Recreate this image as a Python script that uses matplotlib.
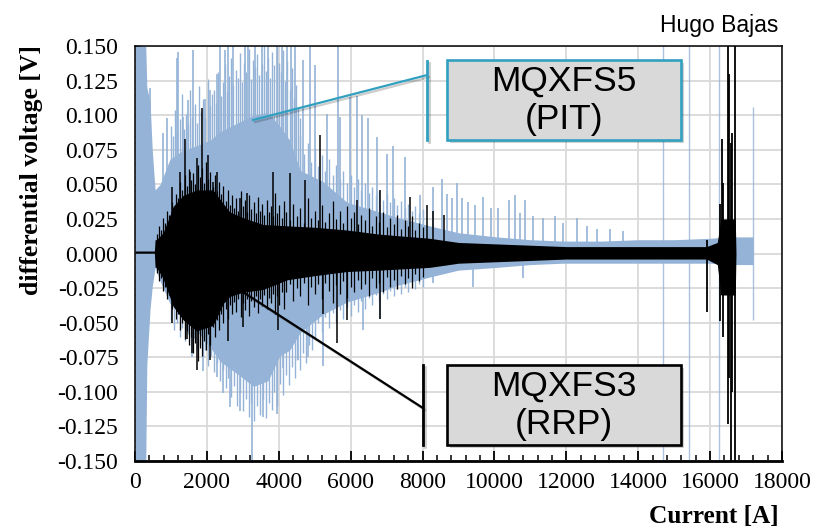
import numpy as np
import matplotlib.pyplot as plt
import matplotlib.patheffects as pe
from matplotlib.patches import Rectangle
from matplotlib.ticker import MultipleLocator, FormatStrFormatter

# ---- data (current in A, voltage in V) ----
# MQXFS5 (PIT), dense core of the noise band
pit_i = [0, 300, 330, 420, 480, 560, 700, 970, 1300, 1720, 2100, 2370, 2900, 3300,
         3700, 4030, 4300, 4600, 5230, 5900, 6800, 7300, 8200, 9000, 10070, 11000,
         11900, 13000, 14000, 15000, 16000, 16500, 17200]
pit_hi = [0.150, 0.150, 0.120, 0.110, 0.075, 0.046, 0.050, 0.068, 0.074, 0.078, 0.082,
          0.088, 0.095, 0.100, 0.102, 0.092, 0.082, 0.060, 0.052, 0.037, 0.030, 0.026,
          0.020, 0.015, 0.012, 0.010, 0.009, 0.009, 0.010, 0.010, 0.011, 0.012, 0.012]
pit_lo = [-0.150, -0.150, -0.080, -0.040, -0.024, -0.010, -0.020, -0.036, -0.045, -0.056,
          -0.068, -0.078, -0.088, -0.096, -0.092, -0.074, -0.070, -0.057, -0.044, -0.035,
          -0.028, -0.023, -0.017, -0.012, -0.010, -0.008, -0.007, -0.007, -0.007, -0.007,
          -0.007, -0.008, -0.008]

# MQXFS5 fringe of the band (regular current sampling)
pit_top_a = [0.092, 0.085, 0.104, 0.088, 0.097, 0.115, 0.090, 0.101, 0.094, 0.118,
             0.099, 0.108, 0.094, 0.121, 0.103, 0.112, 0.098, 0.126, 0.107, 0.115,
             0.118, 0.109, 0.131, 0.114, 0.124, 0.137, 0.117, 0.128, 0.141, 0.122,
             0.133, 0.127, 0.145, 0.124, 0.138, 0.131, 0.148, 0.126, 0.140, 0.135,
             0.144, 0.129, 0.137, 0.150, 0.132, 0.141, 0.127, 0.146, 0.136, 0.150,
             0.138, 0.131, 0.147, 0.125, 0.139, 0.118, 0.134, 0.112, 0.122, 0.105,
             0.098]                                   # 1000..4600 A, every 60 A
pit_top_b = [0.085, 0.072, 0.080, 0.066, 0.076, 0.063, 0.071, 0.060, 0.068, 0.057,
             0.064, 0.054, 0.060, 0.051, 0.057, 0.048, 0.054, 0.046, 0.051, 0.044,
             0.048, 0.042, 0.045, 0.039, 0.043, 0.037, 0.040, 0.035, 0.038, 0.033,
             0.036, 0.031, 0.034, 0.029, 0.032]       # 4600..8000 A, every 100 A
pit_bot_a = [-0.048, -0.055, -0.050, -0.060, -0.054, -0.063, -0.058, -0.067, -0.061, -0.070,
             -0.066, -0.075, -0.070, -0.081, -0.074, -0.086, -0.079, -0.092, -0.084, -0.097,
             -0.090, -0.104, -0.096, -0.110, -0.101, -0.114, -0.105, -0.118, -0.108, -0.121,
             -0.110, -0.117, -0.105, -0.119, -0.108, -0.113, -0.100, -0.110, -0.094, -0.102,
             -0.088, -0.095, -0.082, -0.090, -0.077, -0.084, -0.072, -0.079, -0.066, -0.070]
                                                      # 1000..4920 A, every 80 A
pit_bot_b = [-0.062, -0.050, -0.057, -0.046, -0.054, -0.043, -0.050, -0.041, -0.047, -0.039,
             -0.045, -0.037, -0.042, -0.034, -0.040, -0.032, -0.037, -0.030, -0.035, -0.029,
             -0.033, -0.027, -0.031, -0.026, -0.029, -0.024, -0.028, -0.023, -0.026, -0.022,
             -0.024]                                  # 5000..8000 A, every 100 A

# MQXFS5 single spikes
pit_up_i = [150, 420, 780, 890, 1170, 1200, 1340, 1470, 1615, 1950, 2090, 2280, 2365, 2500,
            2590, 2730, 3060, 3145, 3340, 3535, 3700, 3950, 4090, 4230, 4350, 4450, 4680,
            4870, 5010, 5340, 5650, 5700, 5980, 6180, 6320, 6490, 6730, 7010, 7180, 7510,
            7930, 8290, 8540, 8680, 8820, 8960, 9100, 9270, 9460, 9680, 9900, 10100, 10410,
            10570, 10710, 10850, 11070, 11350, 11690, 11910, 12300, 12580, 12850, 13220, 13580]
pit_up_v = [0.150, 0.120, 0.087, 0.098, 0.141, 0.146, 0.099, 0.111, 0.147, 0.112, 0.118,
            0.130, 0.150, 0.147, 0.150, 0.150, 0.150, 0.150, 0.150, 0.150, 0.150, 0.150,
            0.150, 0.150, 0.150, 0.150, 0.140, 0.150, 0.136, 0.101, 0.150, 0.099, 0.113,
            0.114, 0.100, 0.098, 0.084, 0.072, 0.078, 0.070, 0.042, 0.048, 0.054, 0.043,
            0.040, 0.051, 0.040, 0.037, 0.035, 0.041, 0.033, 0.033, 0.039, 0.042, 0.029,
            0.039, 0.027, 0.026, 0.027, 0.022, 0.026, 0.020, 0.018, 0.018, 0.016]
pit_dn_i = [1600, 1900, 2280, 2450, 2640, 2920, 3260, 3570, 3950, 4120, 4540, 4810, 5230,
            6340, 6820, 8300, 9400, 10800]
pit_dn_v = [-0.075, -0.085, -0.089, -0.101, -0.111, -0.114, -0.150, -0.118, -0.116, -0.083,
            -0.077, -0.075, -0.081, -0.055, -0.047, -0.021, -0.024, -0.018]
pit_line_i = [14690, 15420, 16250, 17200]
pit_line_lo = [-0.150, -0.150, -0.150, -0.048]
pit_line_hi = [0.150, 0.150, 0.150, 0.106]

# MQXFS3 (RRP), dense core
rrp_i = [0, 540, 560, 600, 780, 890, 1060, 1340, 1720, 2170, 2460, 2640, 3000, 3560, 4230,
         5000, 5900, 6800, 8200, 9000, 10000, 11000, 12000, 14000, 15900, 16200, 16300,
         16700, 16720]
rrp_hi = [0.0018, 0.0018, 0.010, 0.010, 0.015, 0.022, 0.034, 0.042, 0.046, 0.046, 0.036,
          0.030, 0.026, 0.021, 0.020, 0.019, 0.017, 0.014, 0.011, 0.008, 0.007, 0.006,
          0.005, 0.005, 0.005, 0.008, 0.025, 0.025, 0.0]
rrp_lo = [0.0002, 0.0002, -0.010, -0.010, -0.018, -0.026, -0.038, -0.048, -0.056, -0.052,
          -0.036, -0.031, -0.028, -0.026, -0.019, -0.016, -0.013, -0.012, -0.010, -0.007,
          -0.006, -0.005, -0.004, -0.004, -0.004, -0.008, -0.030, -0.030, 0.0]

# MQXFS3 fringe
rrp_top_a = [0.014, 0.020, 0.017, 0.026, 0.022, 0.031, 0.028, 0.037, 0.033, 0.043,
             0.040, 0.052, 0.046, 0.057, 0.049, 0.061, 0.053, 0.058, 0.050, 0.064,
             0.055, 0.062, 0.051, 0.066, 0.054, 0.059, 0.048, 0.057, 0.045, 0.052,
             0.043, 0.049, 0.038, 0.046, 0.035, 0.042, 0.033, 0.040, 0.031, 0.045,
             0.034, 0.039, 0.030, 0.042, 0.032, 0.037, 0.029, 0.041, 0.031, 0.036,
             0.028, 0.039, 0.030, 0.034, 0.027, 0.044, 0.029, 0.035, 0.026, 0.038]
                                                      # 600..4140 A, every 60 A
rrp_bot_a = [-0.014, -0.020, -0.018, -0.027, -0.024, -0.033, -0.030, -0.040, -0.036, -0.047,
             -0.044, -0.055, -0.050, -0.062, -0.056, -0.066, -0.060, -0.072, -0.065, -0.078,
             -0.068, -0.074, -0.063, -0.070, -0.058, -0.066, -0.053, -0.060, -0.048, -0.055,
             -0.044, -0.050, -0.040, -0.047, -0.037, -0.044, -0.035, -0.042, -0.033, -0.046,
             -0.036, -0.041, -0.033, -0.045, -0.034, -0.039, -0.031, -0.043, -0.033, -0.038,
             -0.030, -0.040, -0.032, -0.036, -0.029, -0.044, -0.031, -0.037, -0.028, -0.040]
rrp_top_b = [0.030, 0.024, 0.036, 0.027, 0.033, 0.022, 0.040, 0.026, 0.031, 0.024,
             0.035, 0.023, 0.029, 0.038, 0.025, 0.031, 0.022, 0.034, 0.026, 0.030,
             0.021, 0.028, 0.024, 0.033, 0.020, 0.027, 0.023, 0.030, 0.019, 0.026,
             0.021, 0.028, 0.018, 0.024, 0.020, 0.027, 0.017, 0.022, 0.019]
                                                      # 4200..8000 A, every 100 A
rrp_bot_b = [-0.028, -0.022, -0.034, -0.025, -0.031, -0.021, -0.037, -0.024, -0.029, -0.022,
             -0.033, -0.021, -0.027, -0.036, -0.023, -0.029, -0.020, -0.032, -0.024, -0.028,
             -0.019, -0.026, -0.022, -0.031, -0.018, -0.025, -0.021, -0.028, -0.017, -0.024,
             -0.019, -0.026, -0.016, -0.022, -0.018, -0.025, -0.015, -0.020, -0.017]

rrp_up_i = [1030, 1250, 1390, 1530, 1720, 1865, 2030, 2180, 2280, 2920, 3110, 3840, 4310,
            4730, 5150, 6180, 6820, 7650, 8120, 8300, 8600]
rrp_up_v = [0.048, 0.059, 0.083, 0.059, 0.069, 0.105, 0.071, 0.052, 0.059, 0.040, 0.044,
            0.059, 0.058, 0.053, 0.086, 0.039, 0.046, 0.041, 0.035, 0.031, 0.028]
rrp_dn_i = [1030, 1440, 1590, 1720, 2090, 2590, 3000, 3980, 5240, 5610, 5890, 6820]
rrp_dn_v = [-0.050, -0.062, -0.072, -0.084, -0.077, -0.063, -0.053, -0.055, -0.044, -0.065,
            -0.048, -0.047]
rrp_q_i = [15920, 16280, 16330, 16370, 16500, 16530, 16580, 16610, 16690]
rrp_q_lo = [-0.042, -0.049, -0.030, -0.060, -0.123, -0.090, -0.150, -0.100, -0.150]
rrp_q_hi = [0.010, 0.036, 0.083, 0.051, 0.150, 0.130, 0.080, 0.087, 0.150]

blue = '#95B3D7'
teal = '#31A0C0'
serif = 'Liberation Serif'
sans = 'Liberation Sans'

fig = plt.figure(figsize=(8.21, 5.29), dpi=100)
ax = fig.add_axes([0.1644, 0.1285, 0.9525 - 0.1644, 0.913 - 0.1285])

# PIT series
ax.fill_between(pit_i, pit_lo, pit_hi, color=blue, lw=0, zorder=2)
ax.vlines(1000 + 60 * np.arange(len(pit_top_a)), 0, pit_top_a, color=blue, lw=1.0, zorder=2)
ax.vlines(4600 + 100 * np.arange(len(pit_top_b)), 0, pit_top_b, color=blue, lw=1.0, zorder=2)
ax.vlines(1000 + 80 * np.arange(len(pit_bot_a)), pit_bot_a, 0, color=blue, lw=1.0, zorder=2)
ax.vlines(5000 + 100 * np.arange(len(pit_bot_b)), pit_bot_b, 0, color=blue, lw=1.0, zorder=2)
ax.vlines(pit_up_i, 0, pit_up_v, color=blue, lw=1.2, zorder=2)
ax.vlines(pit_dn_i, pit_dn_v, 0, color=blue, lw=1.2, zorder=2)
ax.vlines(pit_line_i, pit_line_lo, pit_line_hi, color=blue, lw=1.0, alpha=0.8, zorder=2)

# RRP series
ax.fill_between(rrp_i, rrp_lo, rrp_hi, color='black', lw=0, zorder=3)
ax.vlines(600 + 60 * np.arange(len(rrp_top_a)), 0, rrp_top_a, color='black', lw=0.9, zorder=3)
ax.vlines(600 + 60 * np.arange(len(rrp_bot_a)), rrp_bot_a, 0, color='black', lw=0.9, zorder=3)
ax.vlines(4200 + 100 * np.arange(len(rrp_top_b)), 0, rrp_top_b, color='black', lw=0.9, zorder=3)
ax.vlines(4200 + 100 * np.arange(len(rrp_bot_b)), rrp_bot_b, 0, color='black', lw=0.9, zorder=3)
ax.vlines(rrp_up_i, 0, rrp_up_v, color='black', lw=1.1, zorder=3)
ax.vlines(rrp_dn_i, rrp_dn_v, 0, color='black', lw=1.1, zorder=3)
ax.vlines(rrp_q_i, rrp_q_lo, rrp_q_hi, color='black', lw=1.3, zorder=3)

ax.set_xlim(0, 18000)
ax.set_ylim(-0.15, 0.15)
ax.xaxis.set_major_locator(MultipleLocator(2000))
ax.xaxis.set_minor_locator(MultipleLocator(400))
ax.yaxis.set_major_locator(MultipleLocator(0.025))
ax.yaxis.set_minor_locator(MultipleLocator(0.005))
ax.yaxis.set_major_formatter(FormatStrFormatter('%.3f'))
ax.set_axisbelow(True)
ax.grid(True, which='major', color='#D9D9D9', lw=1.3, zorder=0)

ax.tick_params(axis='x', which='major', direction='in', length=7, width=1.3, pad=8,
               labelsize=17)
ax.tick_params(axis='x', which='minor', direction='in', length=4, width=1.1)
ax.tick_params(axis='y', which='major', direction='in', length=4, width=1, pad=12,
               labelsize=17)
ax.tick_params(axis='y', which='minor', direction='in', length=3, width=1)
for lab in ax.get_xticklabels() + ax.get_yticklabels():
    lab.set_fontfamily(serif)
for s in ['top', 'right', 'left']:
    ax.spines[s].set_linewidth(1.1)
ax.spines['bottom'].set_linewidth(2)

# annotation boxes
shadow = [pe.SimplePatchShadow(offset=(2, -2), alpha=0.25), pe.Normal()]
lshadow = [pe.SimpleLineShadow(offset=(1.5, -1.5), alpha=0.2), pe.Normal()]

box1 = Rectangle((8680, 0.0821), 15190 - 8680, 0.1399 - 0.0821, facecolor='#D9D9D9',
                 edgecolor=teal, lw=1.9, zorder=6, path_effects=shadow)
ax.add_patch(box1)
ax.text((8680 + 15190) / 2, 0.111, 'MQXFS5\n(PIT)', ha='center', va='center',
        fontsize=25.5, family=sans, zorder=7)
ax.plot([3283, 8125], [0.0965, 0.129], color=teal, lw=1.6, zorder=6, path_effects=lshadow)
ax.plot([8125, 8125], [0.0821, 0.1395], color=teal, lw=2.0, zorder=6, path_effects=lshadow)

box2 = Rectangle((8680, -0.1385), 15190 - 8680, 0.1385 - 0.0806, facecolor='#D9D9D9',
                 edgecolor='black', lw=1.9, zorder=6, path_effects=shadow)
ax.add_patch(box2)
ax.text((8680 + 15190) / 2, -0.1095, 'MQXFS3\n(RRP)', ha='center', va='center',
        fontsize=25.5, family=sans, zorder=7)
ax.plot([2920, 8013], [-0.0264, -0.1117], color='black', lw=1.6, zorder=6,
        path_effects=lshadow)
ax.plot([8013, 8013], [-0.0806, -0.1385], color='black', lw=2.0, zorder=6,
        path_effects=lshadow)

fig.text(32 / 821, 1 - 170 / 529, 'differential voltage [V]', rotation=90, ha='center',
         va='center', fontsize=18.5, fontweight='bold', family=serif)
fig.text(779 / 821, 1 - 523 / 529, 'Current [A]', ha='right', va='baseline',
         fontsize=18.3, fontweight='bold', family=serif)
fig.text(778 / 821, 1 - 32 / 529, 'Hugo Bajas', ha='right', va='baseline',
         fontsize=16.5, family=sans)

fig.savefig('out.png', dpi=100)
